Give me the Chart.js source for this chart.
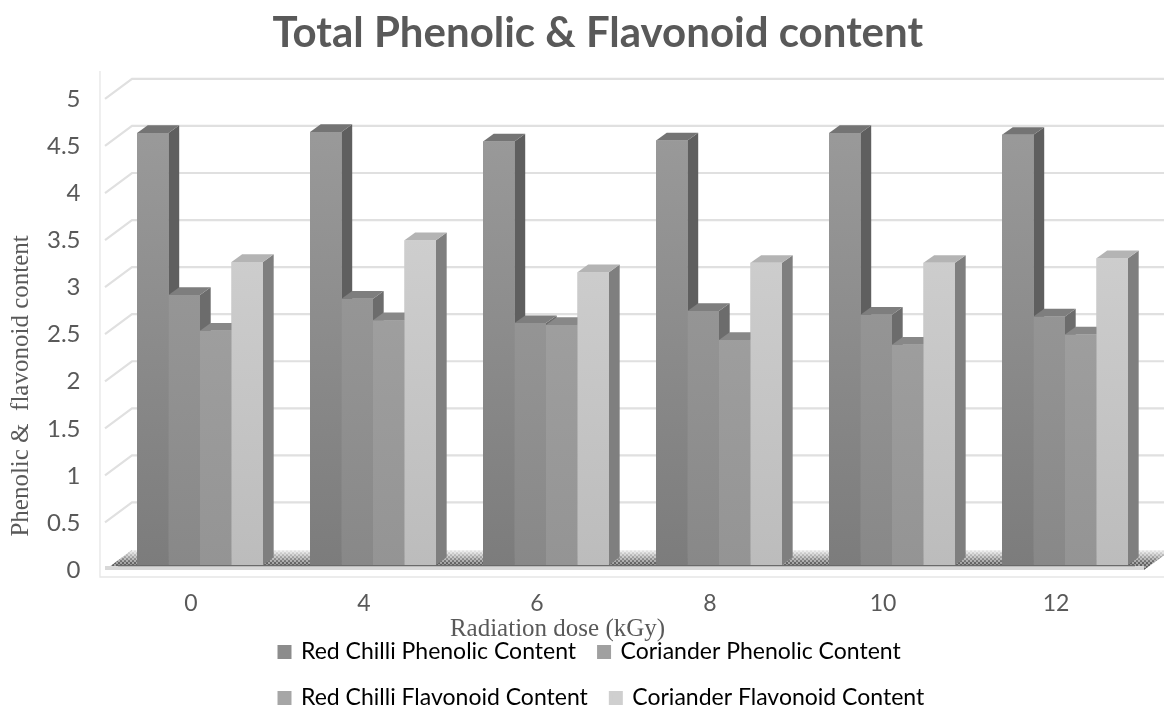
<!DOCTYPE html>
<html>
<head>
<meta charset="utf-8">
<style>
html,body{margin:0;padding:0;background:#fff;overflow:hidden}
canvas{display:block;filter:blur(0.55px)}
</style>
<script src="https://cdn.jsdelivr.net/npm/chart.js@4"></script>
</head>
<body>
<canvas id="c" width="1164" height="706"></canvas>
<script>
const categories = ['0','4','6','8','10','12'];
const redChilliPhenolic = [4.59,4.60,4.50,4.51,4.59,4.57];
const corianderPhenolic = [2.87,2.83,2.57,2.70,2.66,2.64];
const redChilliFlavonoid = [2.49,2.60,2.55,2.39,2.34,2.45];
const corianderFlavonoid = [3.22,3.45,3.11,3.21,3.21,3.26];
const seriesNames = ['Red Chilli Phenolic Content','Coriander Phenolic Content','Red Chilli Flavonoid Content','Coriander Flavonoid Content'];
const seriesValues = [redChilliPhenolic,corianderPhenolic,redChilliFlavonoid,corianderFlavonoid];
const chartTitle = 'Total Phenolic & Flavonoid content';
const xTitle = 'Radiation dose (kGy)';
const yTitle = 'Phenolic &  flavonoid content';

const frontTop = ['#9c9c9c','#a0a0a0','#a8a8a8','#d6d6d6'];
const frontBottom = ['#7c7c7c','#888888','#949494','#bcbcbc'];
const sideCol = ['#5f5f5f','#6c6c6c','#767676','#7f7f7f'];
const topCol = ['#747474','#7e7e7e','#888888','#b4b4b4'];
const swatch = ['#8c8c8c','#a0a0a0','#a6a6a6','#cfcfcf'];
const textCol = '#595959';
const depthX = 10.7, depthY = 7.7;

function gradientFor(i){
  return function(ctx){
    const c = ctx.chart;
    if(!c.chartArea) return frontBottom[i];
    const g = c.ctx.createLinearGradient(0,c.chartArea.top,0,c.chartArea.bottom);
    g.addColorStop(0,frontTop[i]);
    g.addColorStop(1,frontBottom[i]);
    return g;
  };
}

function floorPattern(ctx){
  const p = document.createElement('canvas');
  p.width = 4; p.height = 4;
  const q = p.getContext('2d');
  q.fillStyle = '#a4a4a4'; q.fillRect(0,0,4,4);
  q.fillStyle = '#626262'; q.fillRect(0,0,2,2); q.fillRect(2,2,2,2);
  return ctx.createPattern(p,'repeat');
}

const scene = {
  id:'scene',
  beforeLayout(chart){
    const l = chart.legend;
    if(l && !l._patched){
      const fit = l.fit;
      l.fit = function(){ fit.call(this); this.height = 1; };
      l._patched = true;
    }
  },
  afterLayout(chart){
    const l = chart.legend;
    l.left = 256.5; l.right = 960; l.top = 617.5;
    const t = chart.titleBlock;
    t.left += 22; t.right += 22;
  },
  beforeDatasetsDraw(chart){
    const ctx = chart.ctx, y = chart.scales.y;
    const base = y.getPixelForValue(0);
    ctx.save();
    // walls
    ctx.strokeStyle = '#e6e6e6'; ctx.lineWidth = 1.3;
    ctx.beginPath(); ctx.moveTo(100,71); ctx.lineTo(100,577); ctx.lineTo(1164,577); ctx.stroke();
    // gridlines
    ctx.strokeStyle = '#e0e0e0'; ctx.lineWidth = 2.2;
    y.ticks.forEach(t=>{
      if(t.value===0) return;
      const p = y.getPixelForValue(t.value);
      ctx.beginPath(); ctx.moveTo(105,p+4.5); ctx.lineTo(132,p-15.5); ctx.lineTo(1164,p-15.5); ctx.stroke();
    });
    // floor
    ctx.beginPath();
    ctx.moveTo(105,base+5); ctx.lineTo(1144,base+5); ctx.lineTo(1171,base-15); ctx.lineTo(132,base-15); ctx.closePath();
    ctx.fillStyle = floorPattern(ctx); ctx.fill();
    const g = ctx.createLinearGradient(0,base-15,0,base-2);
    g.addColorStop(0,'rgba(255,255,255,0.9)');
    g.addColorStop(1,'rgba(255,255,255,0)');
    ctx.fillStyle = g; ctx.fill();
    ctx.fillStyle = '#d8d8d8';
    ctx.fillRect(105,base+1,1039,4);
    ctx.strokeStyle = '#6a6a6a'; ctx.lineWidth = 1.5;
    ctx.beginPath(); ctx.moveTo(118,base+0.5); ctx.lineTo(1135,base+0.5); ctx.stroke();
    ctx.restore();
  },
  afterDatasetsDraw(chart){
    const ctx = chart.ctx;
    const n = chart.data.labels.length;
    for(let j=0;j<n;j++){
      chart.data.datasets.forEach((d,i)=>{
        const el = chart.getDatasetMeta(i).data[j];
        const h = el.width/2, l = el.x-h, r = el.x+h, t = el.y, b = el.base;
        ctx.save();
        ctx.fillStyle = sideCol[i];
        ctx.beginPath(); ctx.moveTo(r,t); ctx.lineTo(r+depthX,t-depthY); ctx.lineTo(r+depthX,b-depthY); ctx.lineTo(r,b); ctx.closePath(); ctx.fill();
        ctx.fillStyle = topCol[i];
        ctx.beginPath(); ctx.moveTo(l,t); ctx.lineTo(l+depthX,t-depthY); ctx.lineTo(r+depthX,t-depthY); ctx.lineTo(r,t); ctx.closePath(); ctx.fill();
        ctx.restore();
        el.draw(ctx);
      });
    }
  }
};

new Chart(document.getElementById('c'),{
  type:'bar',
  data:{
    labels:categories,
    datasets:seriesValues.map((v,i)=>({
      label:seriesNames[i],
      data:v,
      backgroundColor:gradientFor(i),
      borderWidth:0,
      barPercentage:1,
      categoryPercentage:0.728
    }))
  },
  plugins:[scene],
  options:{
    responsive:false,
    animation:false,
    devicePixelRatio:1,
    layout:{padding:{left:0,right:12.5,top:0,bottom:0}},
    plugins:{
      tooltip:{enabled:false},
      title:{
        display:true,
        text:chartTitle,
        color:textCol,
        font:{family:'Lato',size:42,weight:'bold',lineHeight:1.2},
        padding:{top:8,bottom:36}
      },
      legend:{
        position:'bottom',
        align:'start',
        maxWidth:720,
        labels:{
          color:textCol,
          font:{family:'Lato',size:23},
          boxWidth:10,
          boxHeight:10,
          padding:23,
          generateLabels(chart){
            return chart.data.datasets.map((d,i)=>({
              text:d.label,
              fillStyle:swatch[i],
              strokeStyle:swatch[i],
              lineWidth:4,
              datasetIndex:i,
              hidden:false
            }));
          }
        }
      }
    },
    scales:{
      x:{
        grid:{display:false},
        border:{display:false},
        ticks:{color:textCol,font:{family:'Lato',size:23},padding:17,labelOffset:-9,maxRotation:0},
        title:{
          display:true,
          text:xTitle+' '.repeat(24),
          color:textCol,
          font:{family:'Liberation Serif',size:25},
          padding:{top:0,bottom:61}
        },
        afterFit(s){ s.height = 140; }
      },
      y:{
        min:0,max:5,
        grid:{display:false},
        border:{display:false},
        ticks:{stepSize:0.5,color:textCol,font:{family:'Lato',size:24},padding:25,labelOffset:5,callback:v=>String(v)},
        title:{
          display:true,
          text:yTitle+' '.repeat(18),
          color:textCol,
          font:{family:'Liberation Serif',size:25},
          padding:{top:6,bottom:0}
        },
        afterFit(s){ s.width = 113.5; }
      }
    }
  }
});
</script>
</body>
</html>
